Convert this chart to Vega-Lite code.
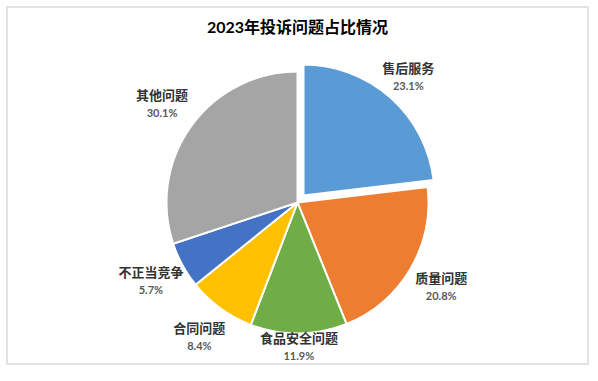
{
  "$schema": "https://vega.github.io/schema/vega-lite/v6.json",
  "width": 598,
  "height": 381,
  "autosize": {"type": "fit", "contains": "padding"},
  "padding": {"left": 6, "top": 6, "right": 9, "bottom": 9},
  "background": "white",
  "config": {"view": {"stroke": null}},
  "title": {
    "text": "2023年投诉问题占比情况",
    "font": "Lato, Noto Sans CJK SC",
    "fontSize": 16,
    "fontWeight": "bold",
    "color": "#000000",
    "anchor": "middle",
    "offset": -30
  },
  "data": {
    "values": [
      {"name": "售后服务", "value": 23.1, "pct": "23.1%", "order": 1},
      {"name": "质量问题", "value": 20.8, "pct": "20.8%", "order": 2},
      {"name": "食品安全问题", "value": 11.9, "pct": "11.9%", "order": 3},
      {"name": "合同问题", "value": 8.4, "pct": "8.4%", "order": 4},
      {"name": "不正当竞争", "value": 5.7, "pct": "5.7%", "order": 5},
      {"name": "其他问题", "value": 30.1, "pct": "30.1%", "order": 6}
    ]
  },
  "layer": [
    {
      "data": {"values": [{"frame": "chart"}]},
      "mark": {"type": "rect", "fill": "white", "fillOpacity": 0, "stroke": "#d9d9d9", "strokeWidth": 1.5},
      "encoding": {}
    },
    {
      "mark": {"type": "arc", "radius": 131, "stroke": "white", "strokeWidth": 2, "yOffset": 17},
      "encoding": {
        "theta": {"field": "value", "type": "quantitative", "stack": true},
        "order": {"field": "order", "type": "quantitative"},
        "color": {
          "field": "name", "type": "nominal", "legend": null,
          "scale": {
            "domain": ["售后服务", "质量问题", "食品安全问题", "合同问题", "不正当竞争", "其他问题"],
            "range": ["#5B9BD5", "#ED7D31", "#70AD47", "#FFC000", "#4472C4", "#A5A5A5"]
          }
        },
        "opacity": {"condition": {"test": "datum.order === 1", "value": 0}, "value": 1}
      }
    },
    {
      "mark": {"type": "arc", "radius": 131, "stroke": "white", "strokeWidth": 2, "xOffset": 6, "yOffset": 10},
      "encoding": {
        "theta": {"field": "value", "type": "quantitative", "stack": true},
        "order": {"field": "order", "type": "quantitative"},
        "color": {"field": "name", "type": "nominal", "legend": null},
        "opacity": {"condition": {"test": "datum.order === 1", "value": 1}, "value": 0}
      }
    },
    {
      "mark": {"type": "text", "radius": 167, "yOffset": 17, "dy": -9, "font": "Noto Sans CJK SC", "fontSize": 13, "fontWeight": "bold", "fill": "#333333"},
      "encoding": {
        "theta": {"field": "value", "type": "quantitative", "stack": true},
        "order": {"field": "order", "type": "quantitative"},
        "text": {"field": "name", "type": "nominal"},
        "opacity": {"condition": {"test": "datum.order === 3", "value": 0}, "value": 1}
      }
    },
    {
      "mark": {"type": "text", "radius": 167, "yOffset": 17, "dy": 9, "font": "Lato", "fontSize": 11, "fontWeight": "bold", "fill": "#595959"},
      "encoding": {
        "theta": {"field": "value", "type": "quantitative", "stack": true},
        "order": {"field": "order", "type": "quantitative"},
        "text": {"field": "pct", "type": "nominal"},
        "opacity": {"condition": {"test": "datum.order === 3", "value": 0}, "value": 1}
      }
    },
    {
      "mark": {"type": "text", "radius": 146, "yOffset": 17, "dy": -9, "font": "Noto Sans CJK SC", "fontSize": 13, "fontWeight": "bold", "fill": "#333333"},
      "encoding": {
        "theta": {"field": "value", "type": "quantitative", "stack": true},
        "order": {"field": "order", "type": "quantitative"},
        "text": {"field": "name", "type": "nominal"},
        "opacity": {"condition": {"test": "datum.order === 3", "value": 1}, "value": 0}
      }
    },
    {
      "mark": {"type": "text", "radius": 146, "yOffset": 17, "dy": 9, "font": "Lato", "fontSize": 11, "fontWeight": "bold", "fill": "#595959"},
      "encoding": {
        "theta": {"field": "value", "type": "quantitative", "stack": true},
        "order": {"field": "order", "type": "quantitative"},
        "text": {"field": "pct", "type": "nominal"},
        "opacity": {"condition": {"test": "datum.order === 3", "value": 1}, "value": 0}
      }
    }
  ]
}
